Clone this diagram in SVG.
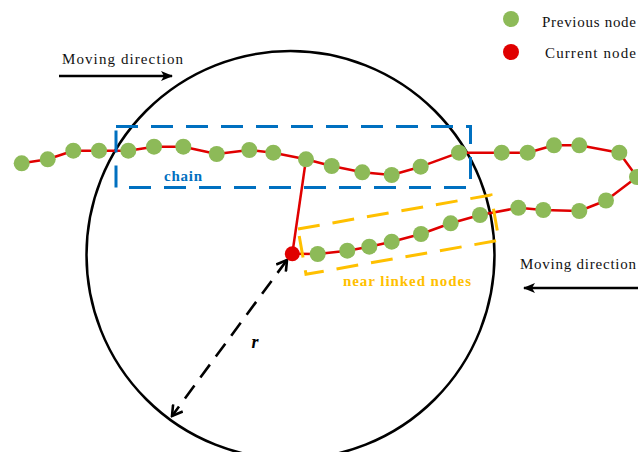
<svg xmlns="http://www.w3.org/2000/svg" width="638" height="452" viewBox="0 0 638 452">
  <style>
    .prev { fill: #8DBA58; }
    .cur { fill: #E00000; }
    .link { fill: none; stroke: #E00000; stroke-width: 2.5; stroke-linejoin: round; }
    .lbl { font-family: "Liberation Serif", "DejaVu Serif", serif; font-size: 15px; fill: #111; }
    .tag { font-family: "Liberation Serif", "DejaVu Serif", serif; font-size: 15px; font-weight: bold; }
  </style>
  <defs>
    <marker id="solidHead" viewBox="0 0 12 10" refX="11" refY="5" markerWidth="12" markerHeight="10" markerUnits="userSpaceOnUse" orient="auto">
      <path d="M0,0 L12,5 L0,10 L3,5 Z" fill="#000"/>
    </marker>
    <marker id="openHead" viewBox="0 0 14 14" refX="12" refY="7" markerWidth="14" markerHeight="14" markerUnits="userSpaceOnUse" orient="auto-start-reverse">
      <path d="M2,1 L12,7 L2,13" fill="none" stroke="#000" stroke-width="2.6"/>
    </marker>
  </defs>
  <rect width="638" height="452" fill="#fff"/>

  <!-- search range around the current node -->
  <circle cx="290.5" cy="255" r="204" fill="none" stroke="#000" stroke-width="2.5"/>

  <!-- connectors: chain links and range radius -->
  <g id="connectors">
    <polyline class="link" points="21.7,163.3 47.7,159.3 73.3,150.7 99,150.7 128.3,150.7 154,146.7 183.3,146.7 216.7,154 249.3,150 273.3,152.7 306,159.3 331.7,166 362.3,172.3 391.7,175 420.7,166.7 459,152.7 501.7,152.7 527.7,152.7 554,145.3 579.3,145.3 619.3,152.7 637,177 606,200.5 579.3,211 543.3,210 518.3,207.8 480,215 450.7,223.3 421,234 391.7,241.7 369.3,246.7 347.3,250.7 317.7,254 292.3,253.8"/>
    <line class="link" x1="292.3" y1="253.8" x2="306" y2="159.3"/>
    <line x1="287" y1="260" x2="172" y2="416" stroke="#000" stroke-width="2.6" stroke-dasharray="16,10" marker-start="url(#openHead)" marker-end="url(#openHead)"/>
  </g>

  <!-- grouping boxes -->
  <rect x="116" y="126.5" width="354.5" height="61" fill="none" stroke="#0070C0" stroke-width="3" stroke-dasharray="22,13"/>
  <rect x="298" y="229" width="196" height="46" transform="rotate(-10 298 229)" fill="none" stroke="#FFC000" stroke-width="3" stroke-dasharray="22,13"/>

  <!-- nodes -->
  <g id="n01"><circle class="prev" cx="21.7" cy="163.3" r="8"/></g>
  <g id="n02"><circle class="prev" cx="47.7" cy="159.3" r="8"/></g>
  <g id="n03"><circle class="prev" cx="73.3" cy="150.7" r="8"/></g>
  <g id="n04"><circle class="prev" cx="99" cy="150.7" r="8"/></g>
  <g id="n05"><circle class="prev" cx="128.3" cy="150.7" r="8"/></g>
  <g id="n06"><circle class="prev" cx="154" cy="146.7" r="8"/></g>
  <g id="n07"><circle class="prev" cx="183.3" cy="146.7" r="8"/></g>
  <g id="n08"><circle class="prev" cx="216.7" cy="154" r="8"/></g>
  <g id="n09"><circle class="prev" cx="249.3" cy="150" r="8"/></g>
  <g id="n10"><circle class="prev" cx="273.3" cy="152.7" r="8"/></g>
  <g id="n11"><circle class="prev" cx="306" cy="159.3" r="8"/></g>
  <g id="n12"><circle class="prev" cx="331.7" cy="166" r="8"/></g>
  <g id="n13"><circle class="prev" cx="362.3" cy="172.3" r="8"/></g>
  <g id="n14"><circle class="prev" cx="391.7" cy="175" r="8"/></g>
  <g id="n15"><circle class="prev" cx="420.7" cy="166.7" r="8"/></g>
  <g id="n16"><circle class="prev" cx="459" cy="152.7" r="8"/></g>
  <g id="n17"><circle class="prev" cx="501.7" cy="152.7" r="8"/></g>
  <g id="n18"><circle class="prev" cx="527.7" cy="152.7" r="8"/></g>
  <g id="n19"><circle class="prev" cx="554" cy="145.3" r="8"/></g>
  <g id="n20"><circle class="prev" cx="579.3" cy="145.3" r="8"/></g>
  <g id="n21"><circle class="prev" cx="619.3" cy="152.7" r="8"/></g>
  <g id="n22"><circle class="prev" cx="637" cy="177" r="8"/></g>
  <g id="n23"><circle class="prev" cx="606" cy="200.5" r="8"/></g>
  <g id="n24"><circle class="prev" cx="579.3" cy="211" r="8"/></g>
  <g id="n25"><circle class="prev" cx="543.3" cy="210" r="8"/></g>
  <g id="n26"><circle class="prev" cx="518.3" cy="207.8" r="8"/></g>
  <g id="n27"><circle class="prev" cx="480" cy="215" r="8"/></g>
  <g id="n28"><circle class="prev" cx="450.7" cy="223.3" r="8"/></g>
  <g id="n29"><circle class="prev" cx="421" cy="234" r="8"/></g>
  <g id="n30"><circle class="prev" cx="391.7" cy="241.7" r="8"/></g>
  <g id="n31"><circle class="prev" cx="369.3" cy="246.7" r="8"/></g>
  <g id="n32"><circle class="prev" cx="347.3" cy="250.7" r="8"/></g>
  <g id="n33"><circle class="prev" cx="317.7" cy="254" r="8"/></g>
  <g id="current"><circle class="cur" cx="292.3" cy="253.8" r="7.5"/></g>

  <!-- labels -->
  <text class="tag" x="164" y="181" fill="#0070C0" textLength="38">chain</text>
  <text class="tag" x="343" y="286" fill="#FFC000" textLength="128">near linked nodes</text>
  <text x="255" y="348" font-family="Liberation Serif, serif" font-size="18" font-style="italic" font-weight="bold" text-anchor="middle">r</text>

  <!-- moving directions -->
  <g id="dir-top">
    <text class="lbl" x="62" y="64" textLength="121">Moving direction</text>
    <line x1="59" y1="76" x2="172" y2="76" stroke="#000" stroke-width="2.5" marker-end="url(#solidHead)"/>
  </g>
  <g id="dir-right">
    <text class="lbl" x="520" y="269" textLength="116">Moving direction</text>
    <line x1="640" y1="288" x2="524" y2="288" stroke="#000" stroke-width="2.5" marker-end="url(#solidHead)"/>
  </g>

  <!-- legend -->
  <g id="legend">
    <circle class="prev" cx="511" cy="19" r="8"/>
    <text class="lbl" x="542" y="27" textLength="94">Previous node</text>
    <circle class="cur" cx="511" cy="52" r="8"/>
    <text class="lbl" x="545" y="58" textLength="91">Current node</text>
  </g>
</svg>
